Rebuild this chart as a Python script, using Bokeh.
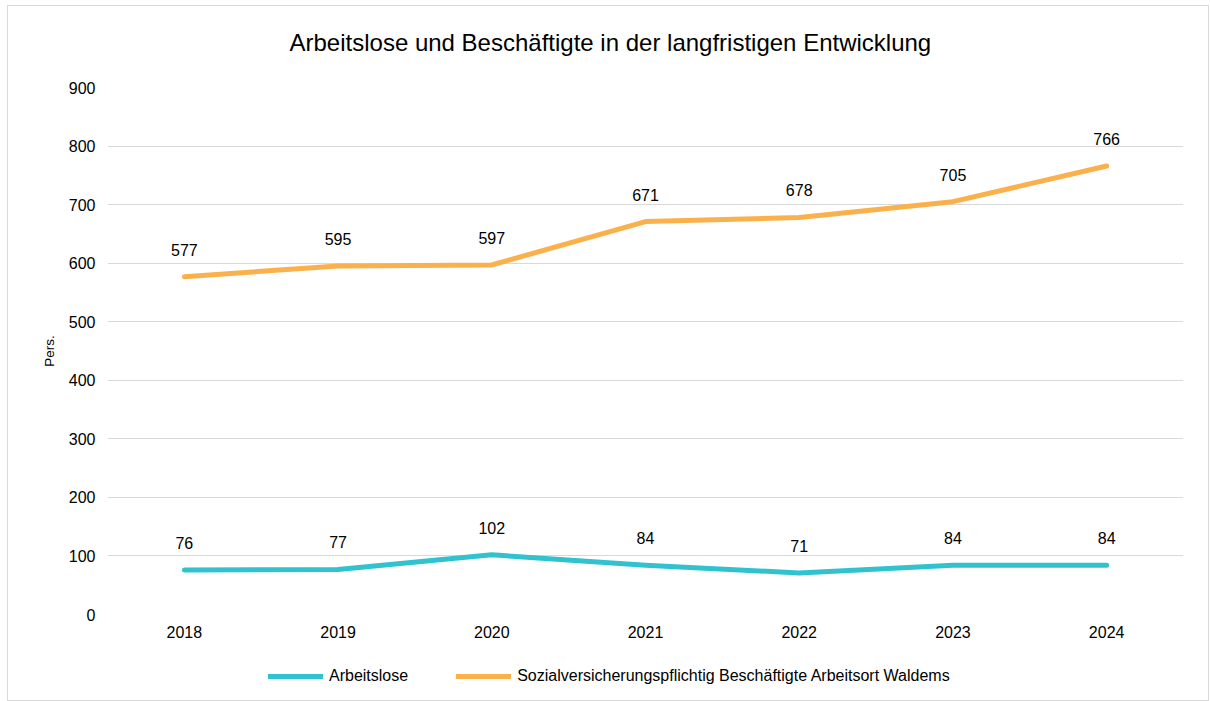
from bokeh.plotting import figure
from bokeh.models import ColumnDataSource, LabelSet, Label, Legend, LegendItem, Range1d, FixedTicker, FactorRange
from bokeh.layouts import column
from bokeh.core.properties import value
from bokeh.embed import file_html
from bokeh.resources import INLINE

years = ["2018", "2019", "2020", "2021", "2022", "2023", "2024"]
arbeitslose = [76, 77, 102, 84, 71, 84, 84]
beschaeftigte = [577, 595, 597, 671, 678, 705, 766]
y_ticks = [0, 100, 200, 300, 400, 500, 600, 700, 800, 900]
series_names = ["Arbeitslose", "Sozialversicherungspflichtig Beschäftigte Arbeitsort Waldems"]
title_text = "Arbeitslose und Beschäftigte in der langfristigen Entwicklung"

TEAL = "#31C2D0"
ORANGE = "#FAB14C"
FONT = "Liberation Sans"

src = ColumnDataSource(dict(
    x=years, a=arbeitslose, b=beschaeftigte,
    at=[str(v) for v in arbeitslose], bt=[str(v) for v in beschaeftigte],
))

# title strip
tf = figure(width=1200, height=60, x_range=Range1d(0, 1076), y_range=Range1d(0, 60),
            output_backend="svg", toolbar_location=None,
            min_border_left=0, min_border_right=0, min_border_top=0, min_border_bottom=0)
tf.axis.visible = False
tf.grid.grid_line_color = None
tf.outline_line_color = None
tf.add_layout(Label(x=182, y=24, text=title_text, text_align="left", text_baseline="middle",
                    text_font=FONT, text_font_size="24px", text_color="#000000"))

p = figure(x_range=years, y_range=Range1d(0, 900), width=1200, height=584,
           output_backend="svg", toolbar_location=None,
           min_border_left=99, min_border_right=25, min_border_top=21, min_border_bottom=36)
p.outline_line_color = None
p.background_fill_color = "white"
p.border_fill_color = "white"

r1 = p.line("x", "a", source=src, line_color=TEAL, line_width=5, line_cap="round", line_join="round")
r2 = p.line("x", "b", source=src, line_color=ORANGE, line_width=5, line_cap="round", line_join="round")

for col, tcol in (("a", "at"), ("b", "bt")):
    p.add_layout(LabelSet(x="x", y=col, text=tcol, source=src, y_offset=21,
                          text_align="center", text_baseline="bottom",
                          text_font=value(FONT), text_font_size=value("16px"), text_color="#000000"))

p.yaxis.ticker = FixedTicker(ticks=y_ticks)
p.yaxis.axis_label = "Pers."
p.yaxis.axis_label_text_font = FONT
p.yaxis.axis_label_text_font_size = "13.5px"
p.yaxis.axis_label_text_font_style = "normal"
p.yaxis.axis_label_text_color = "#000000"
p.yaxis.axis_label_standoff = 9
for ax in (p.xaxis[0], p.yaxis[0]):
    ax.axis_line_color = None
    ax.major_tick_line_color = None
    ax.minor_tick_line_color = None
    ax.major_tick_out = 0
    ax.major_tick_in = 0
    ax.minor_tick_out = 0
    ax.major_label_text_font = FONT
    ax.major_label_text_font_size = "16px"
    ax.major_label_text_color = "#000000"
    ax.major_label_standoff = 12
p.xaxis.major_label_standoff = 11

p.xgrid.grid_line_color = None
p.ygrid.grid_line_color = "#D9D9D9"
p.ygrid.grid_line_width = 1

# legend strip below the chart (series drawn out of view, only legend glyphs show)
lf = figure(width=1200, height=50, x_range=FactorRange(*years), y_range=Range1d(-2000, -1000),
            output_backend="svg", toolbar_location=None,
            min_border_left=0, min_border_right=0, min_border_top=0, min_border_bottom=0)
lf.axis.visible = False
lf.grid.grid_line_color = None
lf.outline_line_color = None
lr1 = lf.line("x", "a", source=src, line_color=TEAL, line_width=5, line_cap="round")
lr2 = lf.line("x", "b", source=src, line_color=ORANGE, line_width=5, line_cap="round")
legend = Legend(items=[LegendItem(label=series_names[0], renderers=[lr1]),
                       LegendItem(label=series_names[1], renderers=[lr2])],
                orientation="horizontal", location=(161, 14),
                label_text_font=FONT, label_text_font_size="16px", label_text_color="#000000",
                glyph_width=55, label_standoff=6, spacing=48, padding=0, margin=0,
                border_line_color=None, background_fill_alpha=0)
lf.add_layout(legend, "center")

layout = column(tf, p, lf, spacing=0)
layout.styles = {"margin-left": "7px", "margin-top": "5px", "border": "1px solid #D9D9D9"}

open("out.html", "w").write(file_html(layout, INLINE))
